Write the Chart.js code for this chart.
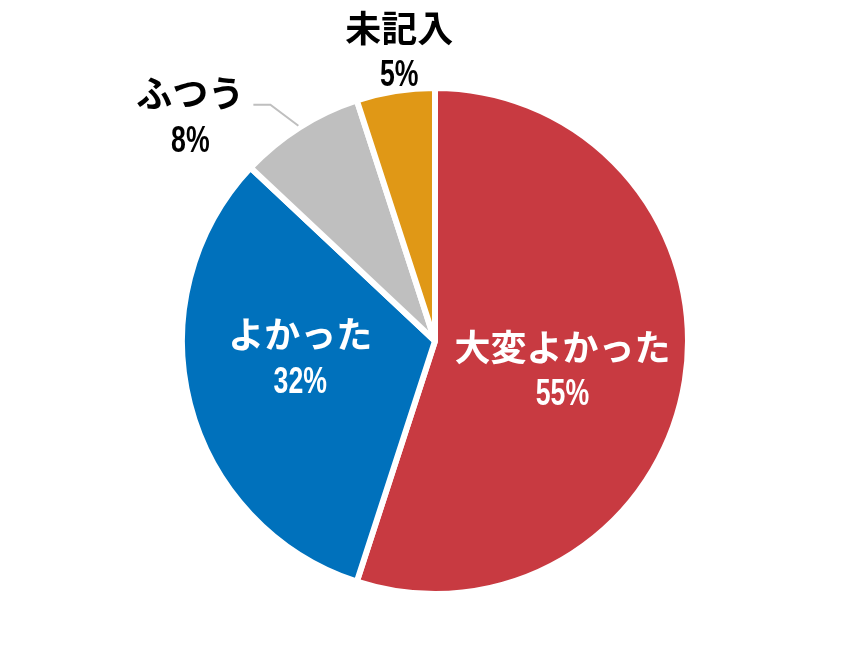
<!DOCTYPE html>
<html lang="ja">
<head>
<meta charset="utf-8">
<script src="https://cdn.jsdelivr.net/npm/chart.js@4.4.1/dist/chart.umd.min.js"></script>
<style>
  html, body { margin: 0; padding: 0; background: #fff; }
  #wrap { width: 865px; height: 670px; }
</style>
</head>
<body>
<div id="wrap"><canvas id="myChart" width="865" height="670"></canvas></div>
<script>
// データ
const categories = ["大変よかった", "よかった", "ふつう", "未記入"];
const values = [55, 32, 8, 5];
const sliceColors = ["#C83A41", "#0071BC", "#BFBFBF", "#E09816"];

const JP_FONT = '"Noto Sans CJK JP", "Noto Sans", sans-serif';
const NUM_FONT = '"Liberation Sans", "DejaVu Sans", sans-serif';

// ラベルの配置 (内側 / 外側)
const labelStyle = [
    { inside: true, frac: 0.51, dx: 0, dy: 10 },
    { inside: true, frac: 0.55, dx: 0, dy: -17 },
    { inside: false, leader: true },
    { inside: false, dist: 1.155, dx: 10, dy: 0 }
];

// 数字は縦長のフォントに見えるので横方向に縮める
function narrowText(ctx, text, x, y) {
    ctx.save();
    ctx.translate(x, y);
    ctx.scale(0.74, 1);
    ctx.fillText(text, 0, 0);
    ctx.restore();
}

const pieLabels = {
    id: "pieLabels",
    afterDatasetsDraw(chart) {
        const ctx = chart.ctx;
        const arcs = chart.getDatasetMeta(0).data;
        ctx.save();
        ctx.textAlign = "center";
        ctx.textBaseline = "middle";
        arcs.forEach((arc, i) => {
            const { x, y, startAngle, endAngle, outerRadius } = arc.getProps(["x", "y", "startAngle", "endAngle", "outerRadius"], true);
            const mid = (startAngle + endAngle) / 2;
            const st = labelStyle[i];
            let cx, cy;
            if (st.inside) {
                cx = x + Math.cos(mid) * outerRadius * st.frac + st.dx;
                cy = y + Math.sin(mid) * outerRadius * st.frac + st.dy;
                ctx.fillStyle = "#ffffff";
            } else if (st.leader) {
                const ex = x + Math.cos(mid) * (outerRadius + 2);
                const ey = y + Math.sin(mid) * (outerRadius + 2);
                const kx = ex - 28, ky = ey - 21;
                ctx.strokeStyle = "#BFBFBF";
                ctx.lineWidth = 2;
                ctx.beginPath();
                ctx.moveTo(ex, ey);
                ctx.lineTo(kx, ky);
                ctx.lineTo(kx - 17, ky);
                ctx.stroke();
                cx = kx - 17 - 63;
                cy = ky + 13;
                ctx.fillStyle = "#000000";
            } else {
                cx = x + Math.cos(mid) * outerRadius * st.dist + st.dx;
                cy = y + Math.sin(mid) * outerRadius * st.dist + st.dy;
                ctx.fillStyle = "#000000";
            }
            ctx.font = "bold 36px " + JP_FONT;
            ctx.fillText(categories[i], cx, cy - 24);
            ctx.font = "bold 36px " + NUM_FONT;
            narrowText(ctx, values[i] + "%", cx, cy + 24);
        });
        ctx.restore();
    }
};

const ctx = document.getElementById("myChart").getContext("2d");
const chart = new Chart(ctx, {
    type: "pie",
    data: {
        labels: categories,
        datasets: [{
            data: values,
            backgroundColor: sliceColors,
            borderColor: "#ffffff",
            borderWidth: 6
        }]
    },
    options: {
        responsive: false,
        animation: false,
        layout: { padding: { top: 85, bottom: 73, left: 173, right: 168 } },
        plugins: {
            legend: { display: false },
            tooltip: { enabled: false }
        }
    },
    plugins: [pieLabels]
});
</script>
</body>
</html>
